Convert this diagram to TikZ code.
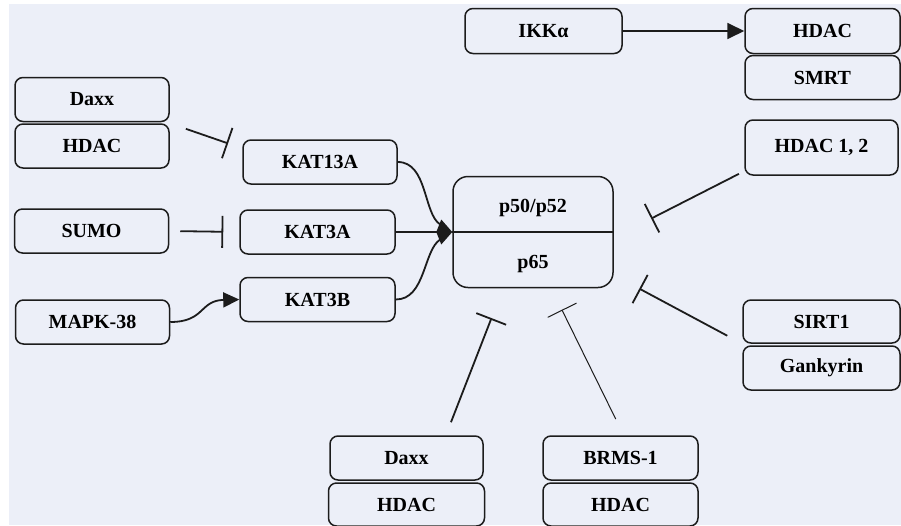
\documentclass[tikz,border=0pt]{standalone}
\usepackage{fontspec}
\setmainfont{Liberation Serif}
\usepackage{tikz}
\usetikzlibrary{arrows.meta}
\definecolor{bgblue}{RGB}{236,239,248}
\definecolor{ink}{RGB}{28,28,28}

\begin{document}
\begin{tikzpicture}[x=1pt,y=-1pt,node distance=46.5pt,draw=ink]
	\tikzstyle{box}=[draw=ink,line width=1.5pt,rounded corners=8pt,minimum width=154pt,minimum height=44pt,inner sep=0pt,font=\fontsize{20}{23}\selectfont\bfseries]
	\tikzstyle{lbl}=[inner sep=0pt,anchor=base,font=\fontsize{20}{23}\selectfont\bfseries]
	\tikzstyle{link}=[draw=ink,line width=1.8pt]
	\tikzstyle{inhib}=[link,-{Bar[width=32pt]}]
	\tikzstyle{act}=[link,-{Triangle[length=16pt,width=15pt]}]
	\useasboundingbox (0,0) rectangle (901,525);
	\fill[bgblue] (9,4) rectangle (901,525);
	% left column
	\node[box] (daxxA)                       at (92,99.5)   {Daxx};
	\node[box] (hdacA)  [below of = daxxA]                  {HDAC};
	\node[box] (sumo)                        at (91.5,231)  {SUMO};
	\node[box] (mapk)                        at (92.5,322)  {MAPK-38};
	% acetyltransferases
	\node[box] (kat13a)                      at (320,162)   {KAT13A};
	\node[box,minimum width=155pt] (kat3a)   at (317.5,232) {KAT3A};
	\node[box,minimum width=155pt] (kat3b)   at (317.5,299.5) {KAT3B};
	% NF-kB dimer
	\node[box,minimum width=160pt,minimum height=111pt,rounded corners=15pt] (pfive) at (533,232) {};
	\draw[line width=1.8pt] (pfive.west) -- (pfive.east);
	\node[lbl] (pfa) at (533,212) {p50/p52};
	\node[lbl] (pfb) at (533,268) {p65};
	% top and right
	\node[box,minimum width=157pt,minimum height=45pt] (ikk) at (543.5,31) {IKKα};
	\node[box,minimum width=155pt,minimum height=45pt] (hdacC) at (822.5,31) {HDAC};
	\node[box,minimum width=155pt] (smrt)   [below of = hdacC]  {SMRT};
	\node[box,minimum width=153pt,minimum height=55pt] (hdacD) at (821.5,147.5) {HDAC 1, 2};
	\node[box,minimum width=157pt,minimum height=43pt] (sirt) at (821.5,321.5) {SIRT1};
	\node[box,minimum width=157pt] (gank)   [below of = sirt]   {Gankyrin};
	% bottom
	\node[box,minimum width=153pt] (daxxB)   at (406.5,458)  {Daxx};
	\node[box,minimum width=156pt,minimum height=43pt] (hdacB) [below of = daxxB] {HDAC};
	\node[box,minimum width=155pt] (brms)    at (620.5,458)  {BRMS-1};
	\node[box,minimum width=155pt,minimum height=43pt] (hdacE) [below of = brms]  {HDAC};
	% connectors
	\draw[inhib,shorten <=17pt,shorten >=15pt] (hdacA.north east) -- (kat13a.170);
	\draw[inhib,shorten <=11pt,shorten >=16pt] (sumo.east) -- (kat3a.west);
	\draw[act] (mapk.east) .. controls +(35,0) and +(-40,1) .. (kat3b.west);
	\draw[link,shorten >=14pt] (kat13a.east) .. controls +(30,0) and +(-29,-18) .. (pfive.west);
	\draw[link,-{Kite[length=16pt,width=25pt,inset=5pt]}] (kat3a.east) -- (pfive.west);
	\draw[link,shorten >=14pt] (kat3b.east) .. controls +(30,0) and +(-29,18) .. (pfive.west);
	\draw[act,-{Triangle[length=17pt,width=16pt]}] (ikk) -- (hdacC);
	\draw[inhib,shorten <=6pt,shorten >=42pt] (hdacD.197) -- (pfive.356);
	\draw[inhib,shorten <=17pt,shorten >=29pt] (sirt.south west) -- (pfive.332);
	\draw[inhib,line width=1pt,shorten <=18pt,shorten >=24pt] (brms.82) -- (pfive.288);
	\draw[inhib,shorten <=14pt,shorten >=32pt] (daxxB.30) -- (pfive.242);
\end{tikzpicture}
\end{document}
